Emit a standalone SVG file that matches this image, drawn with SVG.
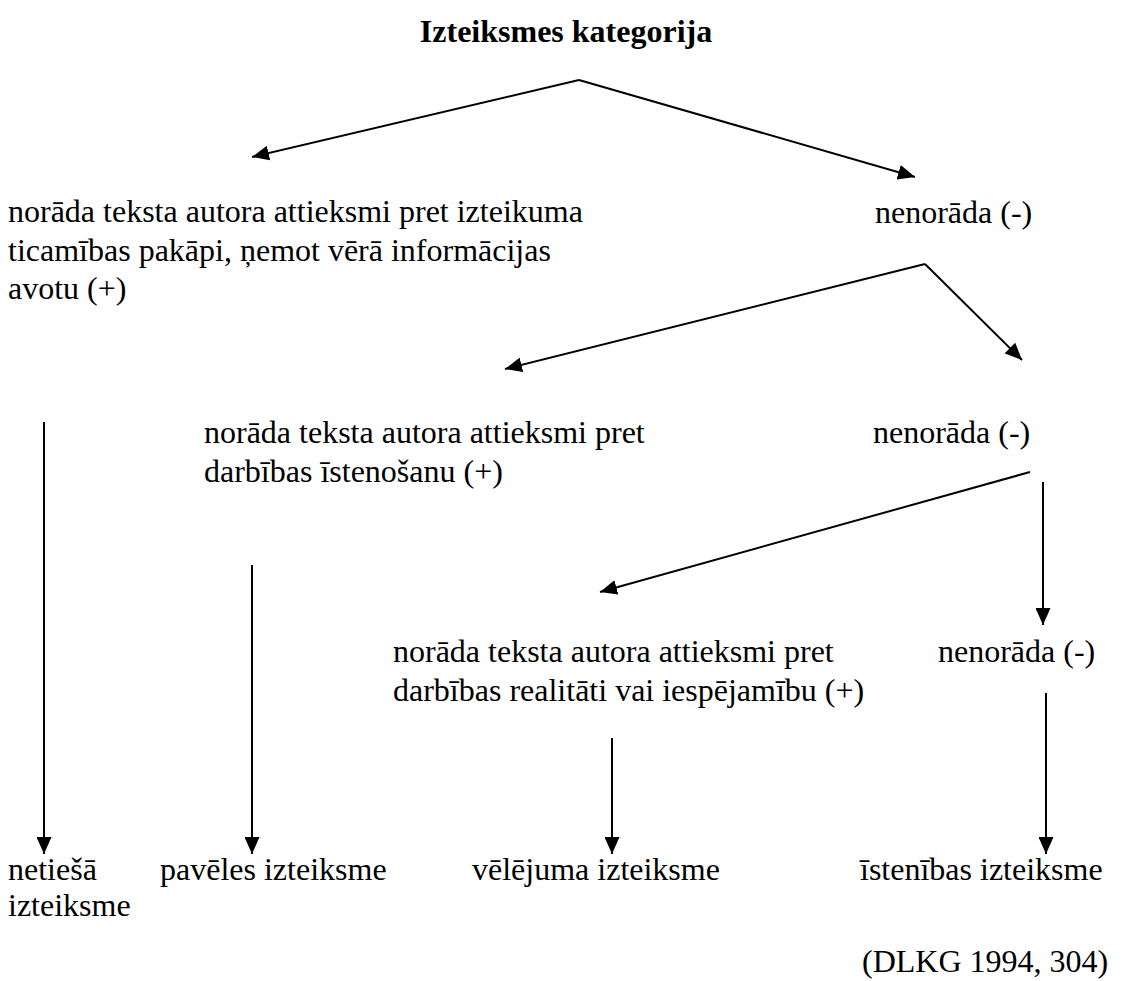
<svg xmlns="http://www.w3.org/2000/svg" width="1123" height="981" viewBox="0 0 1123 981">
<style>
text { font-family: "Liberation Serif", "Times New Roman", "DejaVu Serif", serif; font-size: 32px; fill: #000; }
.title { font-weight: bold; text-anchor: middle; }
.conn { stroke: #000; stroke-width: 2; fill: none; marker-end: url(#arr); }
</style>
<defs>
<marker id="arr" markerUnits="userSpaceOnUse" markerWidth="18" markerHeight="15" refX="17" refY="7.5" orient="auto">
<path d="M0,0 L17,7.5 L0,15 z" fill="#000"/>
</marker>
</defs>
<rect width="1123" height="981" fill="#fff"/>
<g id="title"><text class="title" x="566" y="42">Izteiksmes kategorija</text></g>
<g id="connectors">
<path class="conn" d="M579,80 L252,157"/>
<path class="conn" d="M579,80 L915,177"/>
<path class="conn" d="M925,264 L505,369"/>
<path class="conn" d="M925,264 L1022,360"/>
<path class="conn" d="M44,422 L44,854"/>
<path class="conn" d="M1030,472 L600,592"/>
<path class="conn" d="M1043,482 L1043,625"/>
<path class="conn" d="M252,565 L252,854"/>
<path class="conn" d="M612,738 L612,854"/>
<path class="conn" d="M1046,693 L1046,854"/>
</g>
<g id="node-plus1">
<text x="8" y="222">norāda teksta autora attieksmi pret izteikuma</text>
<text x="8" y="261">ticamības pakāpi, ņemot vērā informācijas</text>
<text x="8" y="299">avotu (+)</text>
</g>
<g id="node-minus1"><text x="875" y="223">nenorāda (-)</text></g>
<g id="node-plus2">
<text x="204" y="443">norāda teksta autora attieksmi pret</text>
<text x="204" y="482">darbības īstenošanu (+)</text>
</g>
<g id="node-minus2"><text x="873" y="443">nenorāda (-)</text></g>
<g id="node-plus3">
<text x="393" y="662">norāda teksta autora attieksmi pret</text>
<text x="393" y="701">darbības realitāti vai iespējamību (+)</text>
</g>
<g id="node-minus3"><text x="938" y="662">nenorāda (-)</text></g>
<g id="leaf-netiesa">
<text x="8" y="880">netiešā</text>
<text x="8" y="916">izteiksme</text>
</g>
<g id="leaf-paveles"><text x="160" y="880">pavēles izteiksme</text></g>
<g id="leaf-velejuma"><text x="472" y="880">vēlējuma izteiksme</text></g>
<g id="leaf-istenibas"><text x="860" y="880">īstenības izteiksme</text></g>
<g id="source"><text x="862" y="972">(DLKG 1994, 304)</text></g>
</svg>
